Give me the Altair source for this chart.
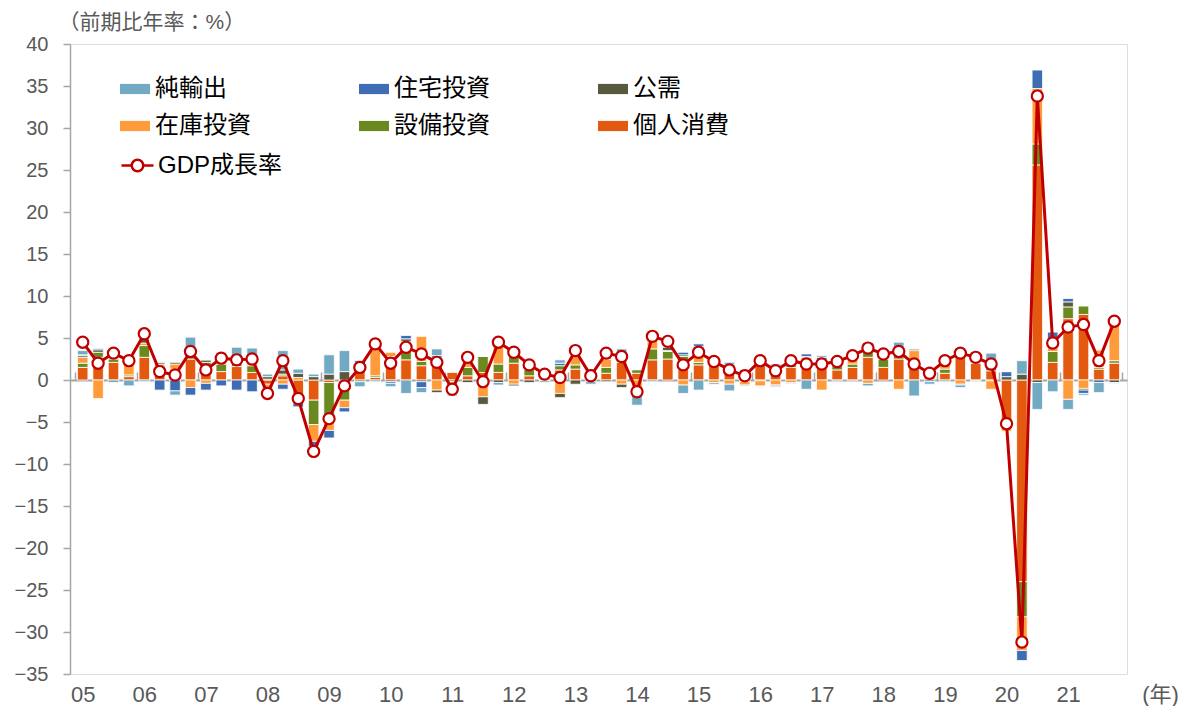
import json
import altair as alt
import pandas as pd

# ---- data (contribution to real GDP growth, % pts, annualised q/q) 2005Q1..2021Q4
year_labels = ["05", "06", "07", "08", "09", "10", "11", "12", "13", "14",
               "15", "16", "17", "18", "19", "20", "21"]

# legend reading order (3 columns, filled column by column)
legend_order = ["純輸出", "在庫投資", "住宅投資", "設備投資", "公需", "個人消費"]
legend_colors = ["#72AAC4", "#FF9B3A", "#3F6DB5", "#6A8A1F", "#58593F", "#E2590F"]
stack_order = ["個人消費", "設備投資", "在庫投資", "公需", "住宅投資", "純輸出"]

consumption = [1.5, 2.7, 2.1, 0.4, 2.7, 1.0, 0.7, 2.5, 1.5, 1.0, 1.6, 0.9,
               -0.5, 0.5, -2.5, -2.4, -0.3, -0.6, 1.3, 0.3, 2.5, 2.4, 1.7, 2.0,
               0.9, 0.5, 0.9, 0.9, 2.0, 0.5, 0.6, 1.2, 1.3, 0.7, 0.8, 2.1,
               0.8, 2.4, 2.5, 2.3, 1.8, 1.9, 1.5, 0.9, 2.2, 1.5, 1.5, 1.4,
               1.8, 1.2, 1.5, 2.7, 1.5, 2.5, 2.0, 0.8, 0.8, 2.8, 2.0, 1.1,
               -4.9, -24.0, 25.6, 2.1, 7.3, 7.8, 1.3, 2.0]
capex = [0.5, 0.6, 0.4, 0.2, 1.4, 0.6, 0.6, 0.3, 0.6, 0.9, 0.4, 0.8,
         0.1, 0.2, -0.2, -2.9, -4.6, -1.8, -0.2, 0.2, 0.3, 1.0, 0.5, 0.6,
         -0.2, 1.0, 1.9, 1.0, 0.9, 0.8, -0.1, 0.5, 0.5, 0.2, 0.7, 0.5,
         0.4, 1.3, 0.9, 0.5, 0.3, 0.1, 0.1, -0.2, -0.1, 0.2, 0.3, 0.3,
         0.6, 0.5, 0.4, 0.9, 1.0, 0.6, 0.3, 0.3, 0.5, 0.2, 0.1, -0.1,
         -0.6, -4.2, 2.5, 1.3, 1.4, 1.0, 0.2, 0.3]
inventory = [0.7, -2.2, 0.3, 1.2, 0.3, 0.3, 0.6, -0.9, -0.4, 0.3, 0.0, 0.6,
             -0.6, -0.5, 0.3, -2.0, -1.1, -0.9, 0.5, 3.4, 0.5, 1.2, 3.0, -1.2,
             -0.2, 0.7, -2.0, 2.7, -0.5, 0.3, 0.0, -1.6, 1.2, 0.2, 1.0, -0.5,
             -1.2, 1.2, 0.1, -0.6, 1.6, -0.3, -0.5, -0.4, -0.6, -0.6, -0.3, 1.0,
             -1.2, 0.3, 0.8, -0.4, 0.1, -1.1, 1.2, 0.1, 0.5, -0.5, -0.1, -1.0,
             -0.6, -4.0, 6.6, 1.3, -2.3, -1.0, 2.1, 4.6]
government = [0.2, 0.3, 0.2, 0.3, 0.5, 0.2, 0.2, 0.4, 0.3, 0.6, 0.3, 0.5,
              0.3, 0.5, 0.5, 0.4, 0.7, 1.0, 0.2, 0.1, -0.2, 0.3, -0.2, -0.3,
              -1.2, -0.3, -0.9, -0.3, -0.2, -0.3, 0.3, -0.5, -0.5, -0.2, -0.2, -0.4,
              -0.1, 0.3, 0.4, 0.2, 0.3, 0.2, 0.3, 0.1, 0.3, -0.1, 0.1, 0.1,
              0.0, 0.0, 0.1, 0.4, 0.3, 0.4, 0.2, 0.1, 0.6, 0.8, 0.3, 0.4,
              0.4, 0.7, -0.3, 0.0, 0.6, -0.2, 0.0, -0.3]
housing = [0.1, 0.2, 0.2, 0.2, 0.1, -1.2, -1.3, -0.9, -0.8, -0.7, -1.2, -1.4,
           -1.0, -0.6, -0.5, -0.6, -0.9, -0.5, 0.3, 0.0, -0.2, 0.4, -0.7, 0.3,
           -0.1, 0.1, 0.0, 0.2, 0.3, 0.2, 0.2, 0.3, 0.3, 0.2, 0.2, 0.1,
           -0.1, 0.2, 0.1, 0.3, 0.3, 0.3, 0.2, 0.2, 0.3, -0.1, -0.1, 0.3,
           0.3, -0.1, -0.1, 0.4, 0.0, 0.0, 0.0, -0.2, 0.0, -0.1, 0.2, 0.2,
           0.6, -1.2, 2.2, 1.0, 0.4, -0.4, -0.3, 0.1]
net_exports = [0.5, 0.0, -0.3, -0.7, -0.2, 0.1, -0.5, 1.9, 0.0, 0.5, 1.6, 1.0,
               0.3, 2.3, 0.5, 0.3, 2.3, 2.5, -0.6, -0.2, -0.4, -1.6, -0.6, 0.8,
               -0.2, 0.3, 0.0, -0.3, 0.4, 0.2, -0.2, 0.4, 0.2, -0.3, 0.3, 1.0,
               -1.6, -0.2, 0.5, -1.0, -1.2, -0.2, -0.8, -0.1, 0.1, 0.2, 0.7, -1.1,
               0.2, 0.1, 0.3, -0.3, 0.1, 1.0, -1.9, -0.3, -0.2, -0.3, -0.1, 1.5,
               0.0, 1.6, -3.2, -1.4, -1.2, -0.2, -1.2, -0.1]
gdp_growth = [4.5, 2.0, 3.2, 2.3, 5.5, 1.0, 0.6, 3.4, 1.2, 2.6, 2.4, 2.5,
              -1.6, 2.3, -2.2, -8.5, -4.6, -0.7, 1.5, 4.3, 2.0, 3.9, 3.1, 2.1,
              -1.1, 2.7, -0.2, 4.5, 3.3, 1.8, 0.7, 0.3, 3.5, 0.5, 3.2, 2.8,
              -1.4, 5.2, 4.6, 1.8, 3.3, 2.2, 1.2, 0.5, 2.3, 1.1, 2.3, 1.9,
              1.9, 2.2, 2.9, 3.8, 3.1, 3.4, 1.9, 0.8, 2.3, 3.2, 2.7, 1.9,
              -5.2, -31.2, 33.8, 4.4, 6.3, 6.6, 2.3, 7.0]

component_values = {
    "個人消費": consumption,
    "設備投資": capex,
    "在庫投資": inventory,
    "公需": government,
    "住宅投資": housing,
    "純輸出": net_exports,
}

rows = []
for name in stack_order:
    for i, v in enumerate(component_values[name]):
        rows.append({"q": i, "series": name, "value": v, "rank": stack_order.index(name)})
bars_df = pd.DataFrame(rows)
gdp_df = pd.DataFrame({"q": list(range(len(gdp_growth))), "gdp": gdp_growth,
                       "name": ["GDP成長率"] * len(gdp_growth)})

n_q = len(gdp_growth)
FONT = "'Liberation Sans', 'Noto Sans CJK JP', sans-serif"
NARROW = "'Liberation Sans Narrow', 'Liberation Sans', 'Noto Sans CJK JP', sans-serif"
GRAY = "#A6A6A6"
TXT = "#595959"
RED = "#C00000"

PLOT_W, PLOT_H = 1057, 630
YMIN, YMAX = -35, 40
zero_offset = PLOT_H * YMAX / (YMAX - YMIN)

xscale = alt.Scale(domain=[-0.5, n_q - 0.5], nice=False, zero=False)
yscale = alt.Scale(domain=[YMIN, YMAX], nice=False)

yaxis = alt.Axis(values=list(range(YMIN, YMAX + 1, 5)), grid=False,
                 title="（前期比年率：%）", titleAngle=0, titleAlign="left",
                 titleBaseline="middle", titleX=-12, titleY=-22,
                 titleFont=FONT, titleFontSize=21, titleFontWeight="normal",
                 titleColor=TXT, labelFont=FONT, labelFontSize=20, labelColor=TXT,
                 labelPadding=15, domainColor=GRAY, domainWidth=1.5,
                 tickColor=GRAY, tickWidth=1.5, tickSize=7)

tick_axis = alt.Axis(orient="top", offset=-zero_offset,
                     values=[4 * k - 0.5 for k in range(len(year_labels) + 1)],
                     labels=False, title=None, grid=False, domain=True,
                     domainColor=GRAY, domainWidth=2, ticks=True, tickSize=8,
                     tickColor=GRAY, tickWidth=1.5)

label_expr = json.dumps(year_labels) + "[floor(datum.value / 4)]"
label_axis = alt.Axis(orient="bottom", values=[4 * k for k in range(len(year_labels))],
                      labelExpr=label_expr, domain=False, ticks=False, grid=False,
                      labelFlush=False, labelOverlap=False, labelPadding=10,
                      labelFont=NARROW, labelFontSize=22, labelColor=TXT,
                      title="(年)", titleFont=NARROW, titleFontSize=22,
                      titleFontWeight="normal", titleColor=TXT,
                      titleX=1090, titleY=20, titleAlign="center",
                      titleBaseline="middle")

rect_sym = "M-1,-0.34H1V0.34H-1Z"
line_sym = ("M-1,0L-0.36,0M0.36,0L1,0M0.36,0A0.36,0.36,0,1,1,-0.36,0"
            "A0.36,0.36,0,1,1,0.36,0Z")

bars = alt.Chart(bars_df).mark_bar(size=10.5, stroke="white", strokeWidth=0.8).encode(
    x=alt.X("q:Q", scale=xscale, axis=tick_axis),
    y=alt.Y("value:Q", stack="zero", scale=yscale, axis=yaxis),
    color=alt.Color("series:N",
                    scale=alt.Scale(domain=legend_order, range=legend_colors),
                    legend=alt.Legend(orient="none", legendX=50, legendY=30,
                                      columns=3, title=None, padding=0,
                                      symbolType=rect_sym, symbolSize=900,
                                      symbolStrokeWidth=0, labelFont=FONT,
                                      labelFontSize=24, labelColor="#000000",
                                      labelOffset=5, columnPadding=108,
                                      rowPadding=10)),
    order=alt.Order("rank:Q"),
)

line = alt.Chart(gdp_df).mark_line(strokeWidth=3).encode(
    x=alt.X("q:Q", scale=xscale, axis=label_axis),
    y=alt.Y("gdp:Q", scale=yscale, axis=yaxis),
    stroke=alt.Stroke("name:N", scale=alt.Scale(range=[RED]),
                      legend=alt.Legend(orient="none", legendX=50, legendY=104,
                                        title=None, padding=0,
                                        symbolType=line_sym, symbolSize=1024,
                                        symbolStrokeWidth=2.5, labelFont=FONT,
                                        labelFontSize=24, labelColor="#000000",
                                        labelOffset=3)),
)

points = alt.Chart(gdp_df).mark_point(shape="circle", filled=True, fill="white",
                                      stroke=RED, strokeWidth=2.2, size=125,
                                      opacity=1).encode(
    x=alt.X("q:Q", scale=xscale, axis=None),
    y=alt.Y("gdp:Q", scale=yscale, axis=yaxis),
)

chart = alt.layer(bars, line, points).resolve_axis(x="independent").properties(
    width=PLOT_W, height=PLOT_H,
    autosize=alt.AutoSizeParams(type="none"),
    padding={"left": 62, "top": 36, "right": 53, "bottom": 32},
).configure_view(stroke=None).configure(background="white")

chart.save("out.html", embed_options={"renderer": "svg", "actions": False})
